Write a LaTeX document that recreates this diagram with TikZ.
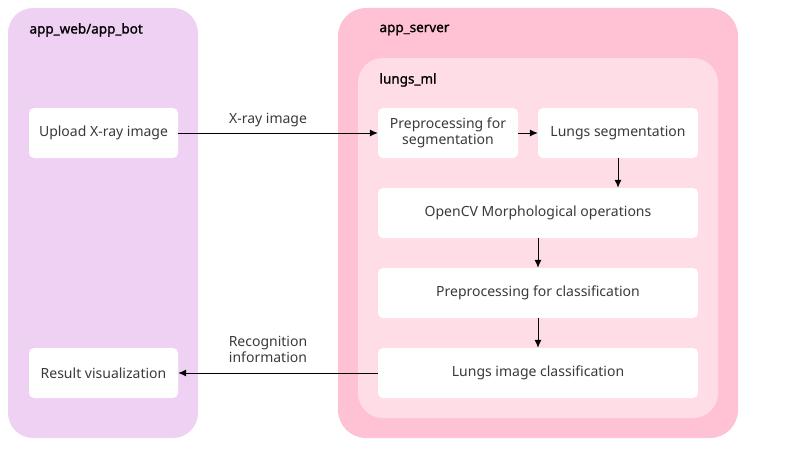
\documentclass[tikz,border=0pt]{standalone}
\usepackage{fontspec}
\setmainfont{Noto Sans}
\newfontfamily\titlefont[FakeBold=1.2]{Noto Sans}
\usetikzlibrary{arrows.meta}
\definecolor{webpanel}{HTML}{EFD1F3}
\definecolor{serverpanel}{HTML}{FFC2D4}
\definecolor{mlpanel}{HTML}{FFDDE6}
\definecolor{boxtext}{HTML}{3A3A3A}
\tikzset{
  stepbox/.style={fill=white,rounded corners=5pt,text=boxtext,align=center,
    minimum height=50pt,inner sep=2pt,font=\fontsize{14}{16}\selectfont},
  paneltitle/.style={anchor=west,text=black,font=\fontsize{13.5}{16}\titlefont},
  flow/.style={-{Latex[length=8pt,width=7pt]},line width=1pt},
  flowlabel/.style={text=boxtext,align=center,font=\fontsize{14}{16}\selectfont}
}
\begin{document}
\begin{tikzpicture}[x=1pt,y=-1pt]
      \useasboundingbox (0,0) rectangle (791,452);
      % panels
      \fill[webpanel,rounded corners=25pt] (8,8) rectangle (198,438);
      \fill[serverpanel,rounded corners=28pt] (338,8) rectangle (738,438);
      \fill[mlpanel,rounded corners=25pt] (358,58) rectangle (718,418);
      \node[paneltitle] (webtitle) at (26,30) {app\_web/app\_bot};
      \node[paneltitle] (servertitle) at (376,30) {app\_server};
      \node[paneltitle] (mltitle) at (376,80) {lungs\_ml};
      % steps
      \node[stepbox,minimum width=149pt] (upload) at (103.5,133) {Upload X-ray image};
      \node[stepbox,minimum width=149pt] (result) at (103.5,373) {Result visualization};
      \node[stepbox,minimum width=140pt] (prepseg) at (448,133) {Preprocessing for\\segmentation};
      \node[stepbox,minimum width=160pt] (lungseg) at (618,133) {Lungs segmentation};
      \node[stepbox,minimum width=320pt] (opencv) at (538,213) {OpenCV Morphological operations};
      \node[stepbox,minimum width=320pt] (prepcls) at (538,293) {Preprocessing for classification};
      \node[stepbox,minimum width=320pt] (lungcls) at (538,373) {Lungs image classification};
      % connectors
      \draw[flow] (upload) -- (prepseg);
      \node[flowlabel] (xray) at (268,120) {X-ray image};
      \draw[flow] (prepseg) -- (lungseg);
      \draw[flow] (lungseg.south) -- (lungseg.south |- opencv.north);
      \draw[flow] (opencv) -- (prepcls);
      \draw[flow] (prepcls) -- (lungcls);
      \draw[flow] (lungcls) -- (result);
      \node[flowlabel] (recog) at (268,349) {Recognition\\information};
\end{tikzpicture}
\end{document}
